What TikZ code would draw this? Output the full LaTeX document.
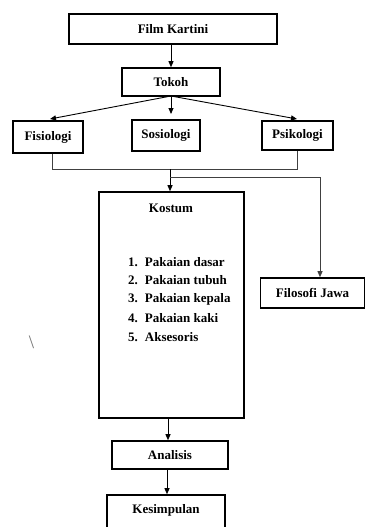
\documentclass[tikz,border=0pt]{standalone}
\usepackage{fontspec}
\setmainfont{Liberation Serif}
\usetikzlibrary{arrows.meta}
\begin{document}
\begin{tikzpicture}[x=1pt,y=-1pt,
  box/.style={draw=black,line width=1.6pt,inner sep=0pt,font=\fontsize{13}{16}\selectfont\bfseries},
  lbl/.style={inner sep=0pt,font=\fontsize{13}{16}\selectfont\bfseries},
  arr/.style={line width=0.9pt,-{Triangle[length=6pt,width=5pt]}},
  con/.style={line width=0.9pt,draw=black!75}]
\useasboundingbox (0,0) rectangle (366,527);
\clip (0,0) rectangle (366,527);
\node[box,minimum width=208pt,minimum height=30pt] (film) at (173,29) {Film Kartini};
\node[box,minimum width=98pt,minimum height=28pt] (tokoh) at (171,82) {Tokoh};
\node[box,minimum width=70pt,minimum height=32pt] (fisio) at (48,137) {Fisiologi};
\node[box,minimum width=68pt,minimum height=31pt] (sosio) at (166,135.5) {Sosiologi};
\node[box,minimum width=71pt,minimum height=29pt] (psiko) at (297.5,135.5) {Psikologi};
\node[box,minimum width=145pt,minimum height=226pt] (kostum) at (171.5,305) {};
\node[lbl] (ktitle) at (171,208) {Kostum};
\node[lbl,anchor=west] (k1) at (128,262) {1.\hspace{7pt}Pakaian dasar};
\node[lbl,anchor=west] (k2) at (128,280.5) {2.\hspace{7pt}Pakaian tubuh};
\node[lbl,anchor=west] (k3) at (128,299.5) {3.\hspace{7pt}Pakaian kepala};
\node[lbl,anchor=west] (k4) at (128,318.5) {4.\hspace{7pt}Pakaian kaki};
\node[lbl,anchor=west] (k5) at (128,337.5) {5.\hspace{7pt}Aksesoris};
\node[box,minimum width=104pt,minimum height=30pt] (filo) at (312.5,293) {Filosofi Jawa};
\node[box,minimum width=116pt,minimum height=28pt] (anal) at (170,455) {Analisis};
\node[box,minimum width=118pt,minimum height=50pt] (kes) at (166,520) {};
\node[lbl] (kestext) at (166,510) {Kesimpulan};
\node[inner sep=0pt,text=black!55,font=\fontsize{19}{20}\selectfont] (bs) at (31.5,342.5) {\textbackslash};
% connectors
\coordinate (tk) at (171,96);
\coordinate (tfis) at (50,119);
\coordinate (tsos) at (171,114);
\coordinate (tpsi) at (297,119);
\coordinate (merge) at (170,169);
\coordinate (branch) at (170,177);
\coordinate (fr) at (320,177);
\draw[arr] (film.south -| tokoh) -- (tokoh.north);
\draw[arr] (tk) -- (tfis);
\draw[arr] (tk) -- (tsos);
\draw[arr] (tk) -- (tpsi);
\draw[con] (fisio.south -| 52,0) -- (52,169) -- (297,169) -- (psiko.south -| 297,0);
\draw[arr] (merge) -- (kostum.north -| merge);
\draw[con,-{Triangle[length=6pt,width=5pt]}] (branch) -- (fr) -- (filo.north -| fr);
\draw[arr] (kostum.south -| 168,0) -- (anal.north -| 168,0);
\draw[arr] (anal.south -| 167,0) -- (kes.north -| 167,0);
\end{tikzpicture}
\end{document}
